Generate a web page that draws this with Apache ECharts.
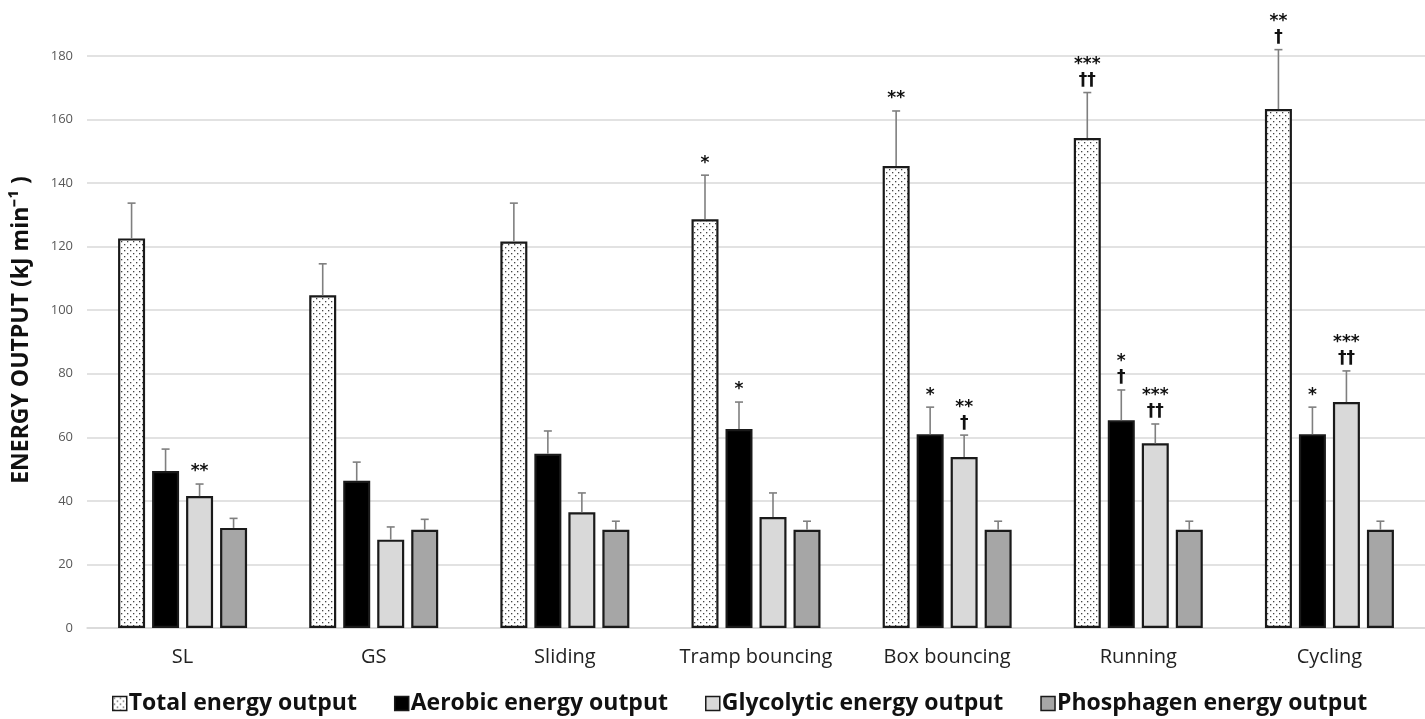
<!DOCTYPE html>
<html>
<head>
<meta charset="utf-8">
<script src="https://cdn.jsdelivr.net/npm/echarts@6/dist/echarts.min.js"></script>
<style>
  html, body { margin: 0; padding: 0; background: #fff; }
  #chart { width: 1425px; height: 719px; }
</style>
</head>
<body>
<div id="chart"></div>
<script>
// categories and values
var categories = ['SL', 'GS', 'Sliding', 'Tramp bouncing', 'Box bouncing', 'Running', 'Cycling'];
var yTicks = [0, 20, 40, 60, 80, 100, 120, 140, 160, 180];

var totalMean = [122.6, 104.7, 121.6, 128.6, 145.4, 154.2, 163.3];
var totalUpper = [133.7, 114.6, 133.7, 142.5, 162.7, 168.5, 182];
var aerobicMean = [49.4, 46.3, 54.8, 62.6, 61, 65.4, 61];
var aerobicUpper = [56.3, 52.2, 62, 71.1, 69.5, 74.9, 69.5];
var glycolyticMean = [41.5, 27.8, 36.4, 34.9, 53.8, 58.1, 71.1];
var glycolyticUpper = [45.3, 31.8, 42.5, 42.5, 60.7, 64.2, 80.9];
var phosphagenMean = [31.5, 30.9, 30.9, 30.9, 30.9, 30.9, 30.9];
var phosphagenUpper = [34.5, 34.2, 33.6, 33.6, 33.6, 33.6, 33.6];

// significance marks above error bars
var totalMarks = ['', '', '', '*', '**', '***\n††', '**\n†'];
var aerobicMarks = ['', '', '', '*', '*', '*\n†', '*'];
var glycolyticMarks = ['**', '', '', '', '**\n†', '***\n††', '***\n††'];
var phosphagenMarks = ['', '', '', '', '', '', ''];

// dotted fill for total energy bars
function dotPattern() {
    var c = document.createElement('canvas');
    c.width = 6; c.height = 6;
    var ctx = c.getContext('2d');
    ctx.fillStyle = '#ffffff';
    ctx.fillRect(0, 0, 6, 6);
    ctx.fillStyle = '#444444';
    ctx.fillRect(1, 1, 1.3, 1.3);
    ctx.fillRect(4, 4, 1.3, 1.3);
    return c;
}

var BAR_W = 27;
var BAR_STEP = 34;

function barSeries(name, data, color) {
    return {
        name: name,
        type: 'bar',
        data: data,
        barWidth: BAR_W,
        barGap: ((BAR_STEP - BAR_W) / BAR_W * 100) + '%',
        itemStyle: { color: color, borderColor: '#1a1a1a', borderWidth: 2.2 }
    };
}

function errSeries(slot, upper, marks) {
    return {
        type: 'custom',
        z: 5,
        silent: true,
        data: upper.map(function (v, i) { return [i, v]; }),
        renderItem: function (params, api) {
            var i = params.dataIndex;
            var means = [totalMean, aerobicMean, glycolyticMean, phosphagenMean][slot];
            var base = api.coord([i, means[i]]);
            var top = api.coord([i, upper[i]]);
            var x = base[0] + (slot - 1.5) * BAR_STEP;
            var children = [
                { type: 'line', shape: { x1: x, y1: base[1], x2: x, y2: top[1] },
                  style: { stroke: '#7f7f7f', lineWidth: 1.6 } },
                { type: 'line', shape: { x1: x - 4, y1: top[1], x2: x + 4, y2: top[1] },
                  style: { stroke: '#7f7f7f', lineWidth: 1.6 } }
            ];
            if (marks[i]) {
                children.push({
                    type: 'text',
                    style: {
                        text: marks[i], x: x, y: top[1] - 4,
                        align: 'center', verticalAlign: 'bottom',
                        font: 'bold 17px "DejaVu Sans"', fill: '#111', lineHeight: 16
                    }
                });
            }
            return { type: 'group', children: children };
        }
    };
}

var chart = echarts.init(document.getElementById('chart'));
chart.setOption({
    animation: false,
    backgroundColor: '#fff',
    grid: { left: 87, right: -19, top: 56, bottom: 91 },
    legend: {
        bottom: -1,
        left: 107,
        itemWidth: 14,
        itemHeight: 14,
        itemGap: 37,
        itemStyle: { borderWidth: 1.5 },
        icon: 'rect',
        data: ['Total energy output', 'Aerobic energy output', 'Glycolytic energy output', 'Phosphagen energy output'],
        textStyle: { fontFamily: 'Open Sans', fontWeight: 'bold', fontSize: 23, color: '#111', padding: [0, 0, 0, -3] }
    },
    xAxis: {
        type: 'category',
        data: categories,
        axisTick: { show: false },
        axisLine: { lineStyle: { color: '#d9d9d9', width: 1.5 } },
        axisLabel: { interval: 0, fontFamily: 'Open Sans', fontSize: 20, color: '#222', margin: 19 }
    },
    yAxis: {
        type: 'value',
        min: yTicks[0],
        max: yTicks[yTicks.length - 1],
        interval: 20,
        name: 'ENERGY OUTPUT (kJ min⁻¹ )',
        nameLocation: 'middle',
        nameGap: 54,
        nameTextStyle: { fontFamily: 'Open Sans', fontWeight: 'bold', fontSize: 23, color: '#111', padding: [0, 0, 0, 24] },
        axisLabel: { fontFamily: 'Open Sans', fontSize: 13, color: '#595959', margin: 14 },
        splitLine: { lineStyle: { color: '#d9d9d9', width: 1.5 } }
    },
    series: [
        barSeries('Total energy output', totalMean, { image: dotPattern(), repeat: 'repeat' }),
        barSeries('Aerobic energy output', aerobicMean, '#000000'),
        barSeries('Glycolytic energy output', glycolyticMean, '#d9d9d9'),
        barSeries('Phosphagen energy output', phosphagenMean, '#a6a6a6'),
        errSeries(0, totalUpper, totalMarks),
        errSeries(1, aerobicUpper, aerobicMarks),
        errSeries(2, glycolyticUpper, glycolyticMarks),
        errSeries(3, phosphagenUpper, phosphagenMarks)
    ]
});
window.addEventListener('resize', function () { chart.resize(); });
</script>
</body>
</html>
